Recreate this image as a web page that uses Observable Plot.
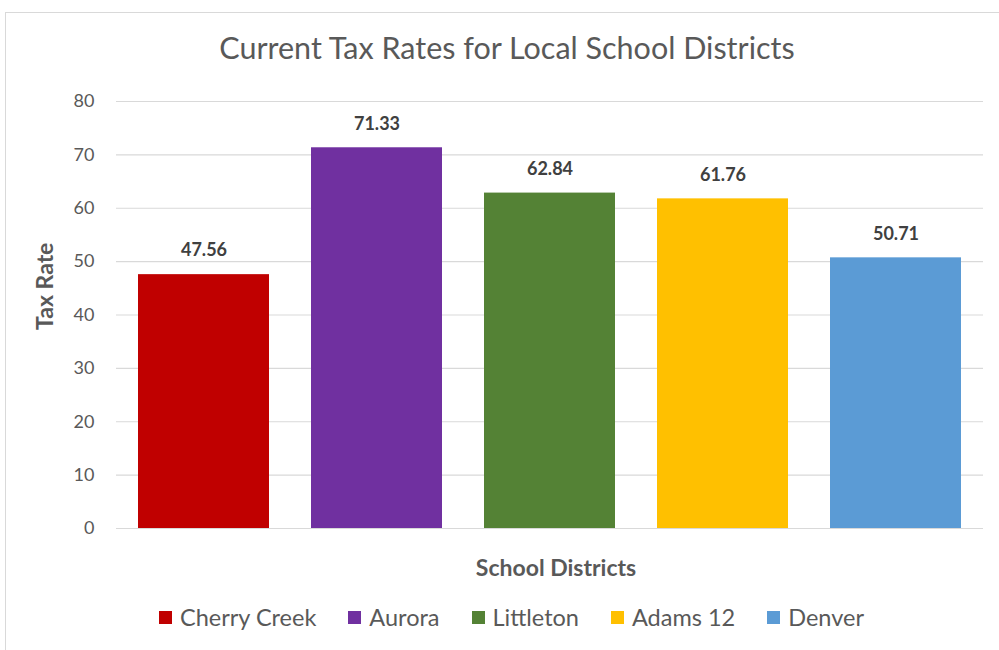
<!DOCTYPE html>
<html>
<head>
<meta charset="utf-8">
<script src="https://cdn.jsdelivr.net/npm/d3@7"></script>
<script src="https://cdn.jsdelivr.net/npm/@observablehq/plot@0.6"></script>
<style>
  html, body { margin: 0; padding: 0; background: #fff; width: 999px; height: 650px; overflow: hidden; }
  #frame { position: absolute; left: 5px; top: 12px; width: 1100px; height: 800px; border: 1.5px solid #d9d9d9; box-sizing: border-box; }
  #title { position: absolute; left: 0; top: 29px; width: 1014px; text-align: center; font-family: Lato, sans-serif; font-size: 30.5px; color: #595959; white-space: nowrap; }
  #chart { position: absolute; left: 0; top: 75px; }
  #legend { position: absolute; left: 0; top: 603px; width: 1023px; display: flex; justify-content: center; gap: 32px; font-family: Lato, sans-serif; font-size: 23.5px; color: #595959; }
  .item { display: flex; align-items: center; gap: 8px; }
  .sw { width: 13px; height: 13px; display: inline-block; }
</style>
</head>
<body>
<div id="frame"></div>
<div id="title">Current Tax Rates for Local School Districts</div>
<div id="chart"></div>
<div id="legend"></div>
<script>
const districts = ["Cherry Creek", "Aurora", "Littleton", "Adams 12", "Denver"];
const taxRates = [47.56, 71.33, 62.84, 61.76, 50.71];
const colors = ["#C00000", "#7030A0", "#548235", "#FFC000", "#5B9BD5"];
const yTicks = [0, 10, 20, 30, 40, 50, 60, 70, 80];

const data = districts.map((d, i) => ({district: d, rate: taxRates[i]}));

const chart = Plot.plot({
  width: 999,
  height: 520,
  marginLeft: 116,
  marginRight: 16,
  marginTop: 26,
  marginBottom: 67,
  style: {background: "transparent", fontFamily: "Lato, sans-serif", fontSize: "18px", color: "#595959"},
  x: {domain: districts, type: "band", paddingInner: 0.245, paddingOuter: 0.1225, axis: null},
  y: {domain: [0, 80], axis: null},
  color: {domain: districts, range: colors},
  marks: [
    Plot.gridY(yTicks, {stroke: "#d9d9d9", strokeOpacity: 1, strokeWidth: 1.2}),
    Plot.barY(data, {x: "district", y: "rate", fill: "district"}),
    Plot.axisY(yTicks, {tickSize: 0, tickPadding: 22, fill: "#595959", fontSize: 18, label: null}),
    Plot.text(data, {x: "district", y: "rate", text: d => d.rate.toFixed(2), dy: -24, fontWeight: "bold", fill: "#404040", fontSize: 18}),
    Plot.text(["Tax Rate"], {frameAnchor: "left", rotate: -90, dx: -71, dy: 15, fontWeight: "bold", fill: "#595959", fontSize: 23}),
    Plot.text(["School Districts"], {frameAnchor: "bottom", dx: 6, dy: 47, fontWeight: "bold", fill: "#595959", fontSize: 23})
  ]
});
document.getElementById("chart").appendChild(chart);

const legend = document.getElementById("legend");
districts.forEach((d, i) => {
  const item = document.createElement("div");
  item.className = "item";
  const sw = document.createElement("span");
  sw.className = "sw";
  sw.style.background = colors[i];
  const t = document.createElement("span");
  t.textContent = d;
  item.appendChild(sw);
  item.appendChild(t);
  legend.appendChild(item);
});
</script>
</body>
</html>
